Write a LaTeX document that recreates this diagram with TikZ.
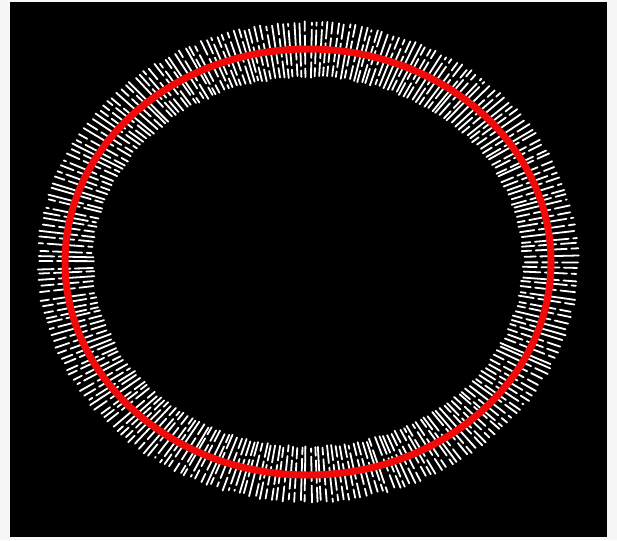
\documentclass[tikz,border=0pt]{standalone}
\begin{document}
\begin{tikzpicture}[x=1pt,y=-1pt,
  wdash/.style={white,line width=1.8pt,line cap=round},
  redring/.style={draw={rgb,255:red,240;green,10;blue,10},line width=7pt}]
\useasboundingbox (0,0) rectangle (617,540);
\fill[gray!6] (0,0) rectangle (617,540);
\fill[black] (10,2) rectangle (607,537);
\pgfmathsetseed{11}
\foreach \i in {0,...,269}{
  \pgfmathsetmacro\myang{\i*1.333333 + (rnd-0.5)*0.6}
  \pgfmathsetmacro\myc{cos(\myang)}
  \pgfmathsetmacro\mys{sin(\myang)}
  \pgfmathsetmacro\myrr{243/sqrt(\myc*\myc+1.3014*\mys*\mys)}
  \pgfmathsetmacro\myri{\myrr-29+rnd*3}
  \pgfmathsetmacro\myro{\myrr+28-rnd*3}
  \pgfmathsetmacro\myga{\myrr-23+rnd*14}
  \pgfmathsetmacro\mygb{\myrr+6+rnd*14}
  \pgfmathsetmacro\mypa{rnd}
  \pgfmathsetmacro\mypb{rnd}
  \ifdim\mypa pt<0.8pt
    \draw[wdash] ({308+\myri*\myc},{262+\myri*\mys}) -- ({308+\myga*\myc},{262+\myga*\mys});
    \draw[wdash] ({308+(\myga+4.5)*\myc},{262+(\myga+4.5)*\mys}) -- ({308+\myrr*\myc},{262+\myrr*\mys});
  \else
    \draw[wdash] ({308+\myri*\myc},{262+\myri*\mys}) -- ({308+\myrr*\myc},{262+\myrr*\mys});
  \fi
  \ifdim\mypb pt<0.8pt
    \draw[wdash] ({308+\myrr*\myc},{262+\myrr*\mys}) -- ({308+\mygb*\myc},{262+\mygb*\mys});
    \draw[wdash] ({308+(\mygb+4.5)*\myc},{262+(\mygb+4.5)*\mys}) -- ({308+\myro*\myc},{262+\myro*\mys});
  \else
    \draw[wdash] ({308+\myrr*\myc},{262+\myrr*\mys}) -- ({308+\myro*\myc},{262+\myro*\mys});
  \fi
}
\draw[redring] (308,262) ellipse [x radius=243pt, y radius=213pt];
\end{tikzpicture}
\end{document}
